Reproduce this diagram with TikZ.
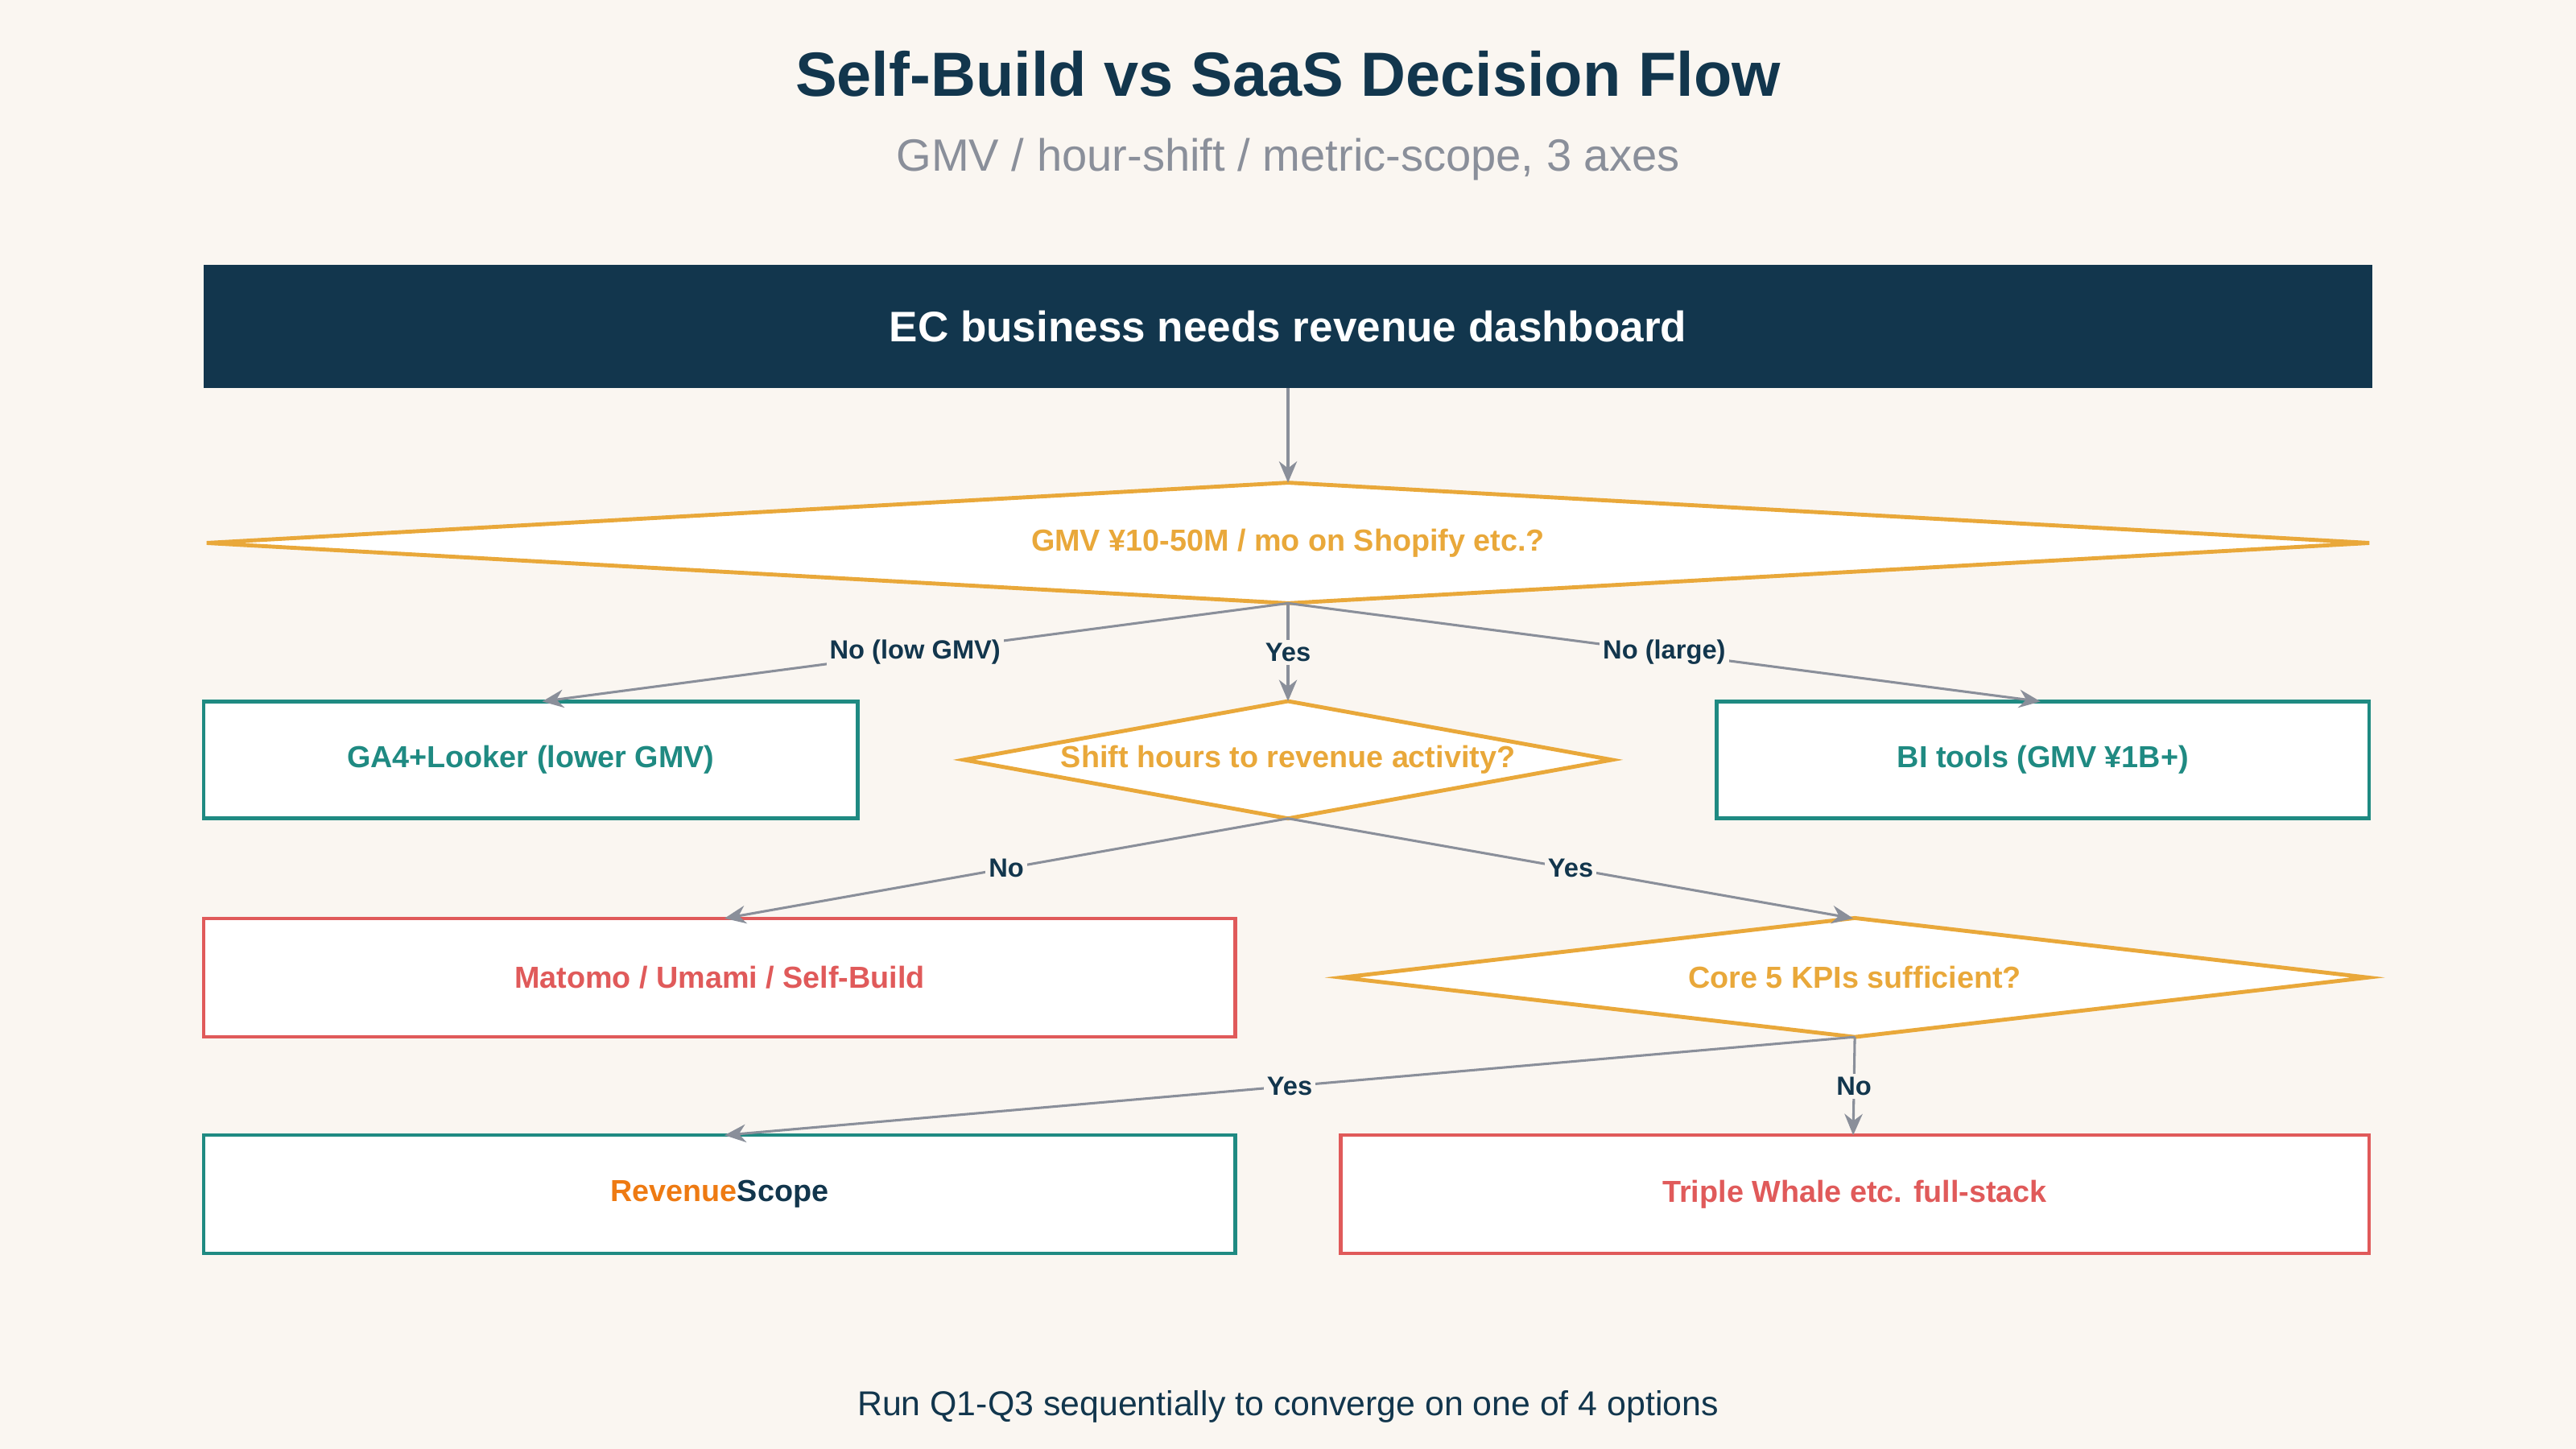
\documentclass[tikz,border=0pt]{standalone}
\usepackage{fontspec}
\setmainfont{Liberation Sans}
\usetikzlibrary{arrows.meta}
\definecolor{bg}{HTML}{FAF6F1}
\definecolor{navy}{HTML}{12364D}
\definecolor{org}{HTML}{E9A83A}
\definecolor{teal}{HTML}{1F8A82}
\definecolor{red}{HTML}{E05A5A}
\definecolor{gry}{HTML}{8A8F9A}
\definecolor{rev}{HTML}{EE7A12}
\begin{document}
\begin{tikzpicture}[x=1pt,y=-1pt,
  box/.style={draw=#1,line width=2.2pt,fill=white,text=#1,font=\fontsize{18.5}{22}\selectfont\bfseries,inner sep=0pt},
  dia/.style={inner sep=0pt,text=org,font=\fontsize{18.5}{22}\selectfont\bfseries},
  arr/.style={draw=gry,line width=1.5pt,-{Stealth[length=13pt,width=11pt]}},
  lab/.style={fill=bg,text=navy,font=\fontsize{16}{19}\selectfont\bfseries,inner sep=2pt}]
\fill[bg] (0,0) rectangle (1568,882);
\useasboundingbox (0,0) rectangle (1568,882);
\node[text=navy,font=\fontsize{38}{44}\selectfont\bfseries] (title) at (784,45) {Self-Build vs SaaS Decision Flow};
\node[text=gry,font=\fontsize{27.5}{32}\selectfont] (sub) at (784,97) {GMV / hour-shift / metric-scope, 3 axes};
\node[fill=navy,text=white,minimum width=1320pt,minimum height=75pt,inner sep=0pt,font=\fontsize{26}{30}\selectfont\bfseries] (top) at (784,198.5) {EC business needs revenue dashboard};
% diamonds
\node[dia,minimum width=1316pt,minimum height=73pt] (d1) at (784,330.5) {GMV ¥10-50M / mo on Shopify etc.?};
\node[dia,minimum width=394pt,minimum height=71pt] (d2) at (784,462.5) {Shift hours to revenue activity?};
\node[dia,minimum width=624pt,minimum height=72pt] (d3) at (1129,595) {Core 5 KPIs sufficient?};
\foreach \d in {d1,d2,d3}{
  \draw[org,line width=2.4pt,fill=white] (\d.west)--(\d.north)--(\d.east)--(\d.south)--cycle;
}
\node[dia] at (d1) {GMV ¥10-50M / mo on Shopify etc.?};
\node[dia] at (d2) {Shift hours to revenue activity?};
\node[dia] at (d3) {Core 5 KPIs sufficient?};
% boxes
\node[box=teal,minimum width=398pt,minimum height=71pt] (ga) at (323,462.5) {GA4+Looker (lower GMV)};
\node[box=teal,minimum width=397pt,minimum height=71pt] (bi) at (1243.5,462.5) {BI tools (GMV ¥1B+)};
\node[box=red,minimum width=628pt,minimum height=72pt] (mat) at (438,595) {Matomo / Umami / Self-Build};
\node[box=teal,minimum width=628pt,minimum height=72pt] (rs) at (438,727) {\textcolor{rev}{Revenue}\textcolor{navy}{Scope}};
\node[box=red,minimum width=626pt,minimum height=72pt] (tw) at (1129,727) {Triple Whale etc. full-stack};
% connector end coordinates
\coordinate (gaT) at (330,427);
\coordinate (biT) at (1242,427);
\coordinate (matT) at (441,559);
\coordinate (d3T) at (1128,559);
\coordinate (rsT) at (441,691);
\coordinate (twT) at (1128,691);
\draw[arr] (top.south) -- (d1.north);
\draw[arr] (d1.south) -- node[lab]{No (low GMV)} (gaT);
\draw[arr] (d1.south) -- node[lab]{Yes} (d2.north);
\draw[arr] (d1.south) -- node[lab]{No (large)} (biT);
\draw[arr] (d2.south) -- node[lab]{No} (matT);
\draw[arr] (d2.south) -- node[lab]{Yes} (d3T);
\draw[arr] (d3.south) -- node[lab]{Yes} (rsT);
\draw[arr] (d3.south) -- node[lab]{No} (twT);
\node[text=navy,font=\fontsize{21}{25}\selectfont] (foot) at (784,856) {Run Q1-Q3 sequentially to converge on one of 4 options};
\end{tikzpicture}
\end{document}
